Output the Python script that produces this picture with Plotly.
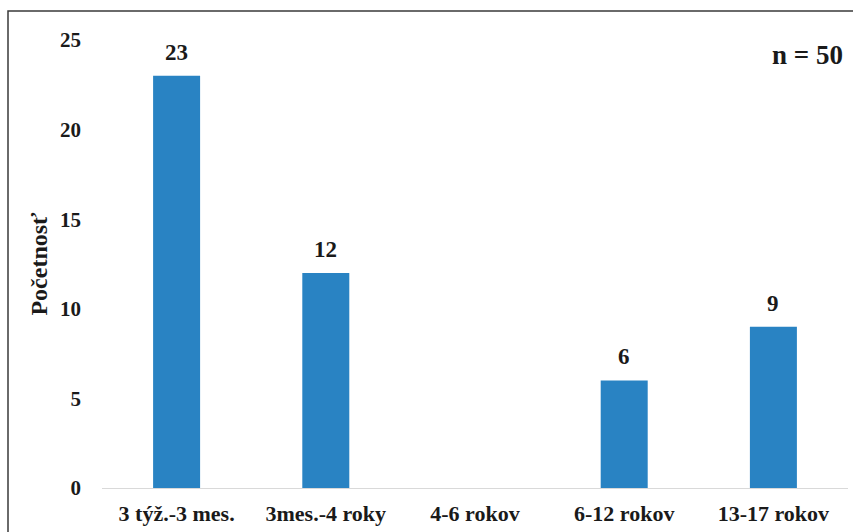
import plotly.graph_objects as go

categories = ["3 týž.-3 mes.", "3mes.-4 roky", "4-6 rokov", "6-12 rokov", "13-17 rokov"]
values = [23, 12, 0, 6, 9]
y_ticks = [0, 5, 10, 15, 20, 25]
n_label = "n = 50"
y_title = "Početnosť"

W, H = 853, 532
L, R, T, B = 102, 5, 40, 44
pw, ph = W - L - R, H - T - B

def px_x(px):
    return (px - L) / pw

def px_y(py):
    return (H - B - py) / ph

FONT = "Liberation Serif"
TXT = "#1a1a1a"
bar_color = "#2983C3"

fig = go.Figure()
fig.add_trace(go.Bar(
    x=categories, y=values,
    marker=dict(color=bar_color, line=dict(width=0)),
    width=0.315,
    hoverinfo="x+y",
))

for c, v in zip(categories, values):
    if v:
        fig.add_annotation(x=c, y=v, text=f"<b>{v}</b>", showarrow=False,
                           yanchor="bottom", yshift=9,
                           font=dict(family=FONT, size=23, color=TXT))

fig.add_annotation(xref="paper", yref="paper", x=px_x(845), y=px_y(55),
                   xanchor="right", yanchor="middle", showarrow=False,
                   text=f"<b>{n_label}</b>",
                   font=dict(family=FONT, size=27, color=TXT))

# outer frame (top and left visible; right/bottom beyond viewport)
fig.add_shape(type="rect", xref="paper", yref="paper",
              x0=px_x(8), x1=px_x(W + 20), y0=px_y(11), y1=px_y(H + 20),
              line=dict(color="#3a3a3a", width=1.5), layer="above")

fig.update_layout(
    width=W, height=H,
    margin=dict(l=L, r=R, t=T, b=B, autoexpand=False),
    plot_bgcolor="white", paper_bgcolor="white",
    showlegend=False,
    font=dict(family=FONT, color=TXT),
    xaxis=dict(
        tickmode="array", tickvals=categories,
        ticktext=[f"<b>{c}</b>" for c in categories],
        tickfont=dict(family=FONT, size=22, color=TXT),
        showline=True, linecolor="#d9d9d9", linewidth=1.3,
        showgrid=False, ticks="", ticklabelstandoff=5,
        automargin=False,
    ),
    yaxis=dict(
        range=[0, 25], tickmode="array", tickvals=y_ticks,
        ticktext=[f"<b>{t}</b>" for t in y_ticks],
        tickfont=dict(family=FONT, size=21, color=TXT),
        showline=False, showgrid=False, zeroline=False, ticks="",
        ticklabelstandoff=20,
        title=dict(text=f"<b>{y_title}</b>", standoff=5,
                   font=dict(family=FONT, size=24, color=TXT)),
        automargin=False,
    ),
)

fig.write_html("out.html")
